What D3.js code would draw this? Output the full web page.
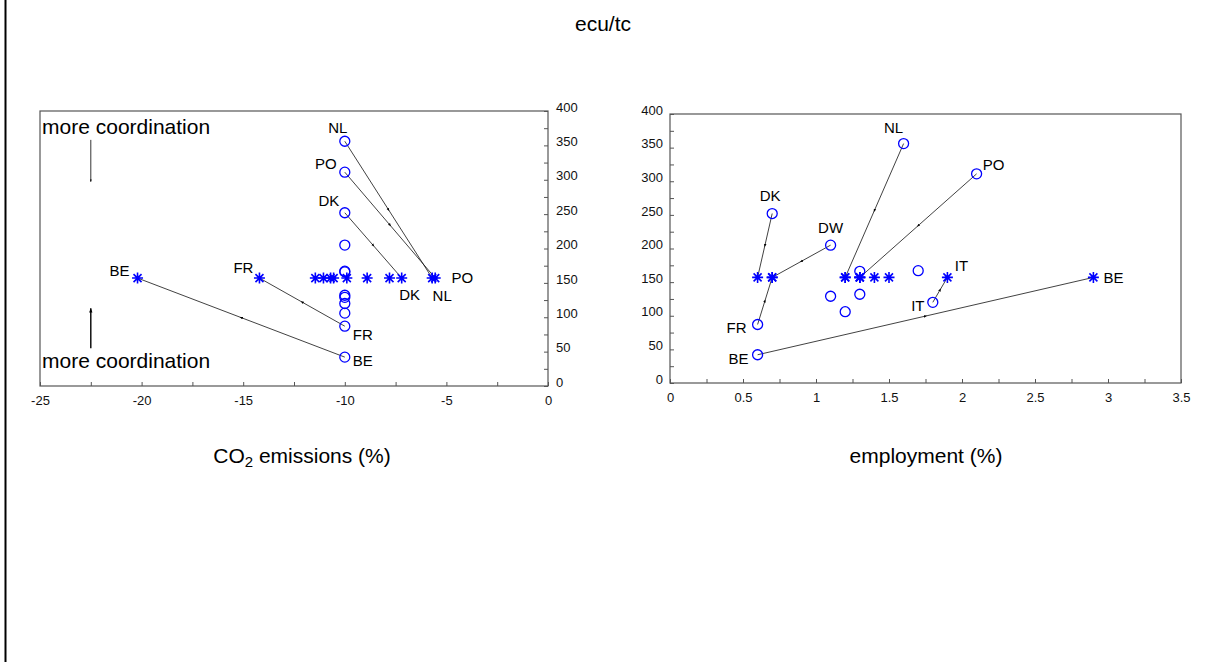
<!DOCTYPE html>
<meta charset="utf-8">
<style>
	body { margin: 0; background: #fff; }
	svg { font-family: Arial, "Liberation Sans", sans-serif; }
	.tick line { stroke: #555; }
	.tick text { font-size: 13px; fill: #111; }
	.domain { display: none; }
</style>

<div class="chart"></div>

<script src="https://cdn.jsdelivr.net/npm/d3@7"></script>

<script>
	// one entry per country, same order in every array ("" = unlabelled)
	var countries   = ["BE", "FR", "DK", "NL", "PO", "DW", "IT", "", "", "", "", ""];
	var taxCoord    = [42, 87, 252, 356, 311, 205, 120, 166, 167, 129, 132, 106];   // ecu/tc
	var taxUniform  = [157, 157, 157, 157, 157, 157, 157, 157, 157, 157, 157, 157];
	var co2Coord    = [-10, -10, -10, -10, -10, -10, -10, -10, -10, -10, -10, -10];
	var co2Uniform  = [-20.2, -14.2, -7.2, -5.7, -5.55, -9.9, -7.8, -11.45, -11.05, -10.7, -10.55, -8.9];
	var empCoord    = [0.6, 0.6, 0.7, 1.6, 2.1, 1.1, 1.8, 1.3, 1.7, 1.1, 1.3, 1.2];
	var empUniform  = [2.9, 0.7, 0.6, 1.2, 1.3, 0.7, 1.9, 1.4, 1.5, 1.2, 1.3, 1.3];

	var linkedLeft  = ["BE", "FR", "DK", "NL", "PO"];
	var linkedRight = ["BE", "FR", "DK", "NL", "PO", "DW", "IT"];

	var yTicks    = d3.range(0, 401, 25);
	var co2Ticks  = d3.range(-25, 0.01, 2.5);
	var empTicks  = d3.range(0, 3.51, 0.25);

	// "more coordination" notes, in data units of the left panel
	var noteText   = ["more coordination", "more coordination"];
	var noteY      = [366, 26];
	var noteArrows = [[358, 297], [55, 113]];

	var data = countries.map(function (c, i) {
		return {
			country: c,
			tax: taxCoord[i], taxU: taxUniform[i],
			co2: co2Coord[i], co2U: co2Uniform[i],
			emp: empCoord[i], empU: empUniform[i]
		};
	});

	var width = 1214, height = 662;

	var svg = d3.select('.chart').append('svg')
			.attr('width', width)
			.attr('height', height);

	var defs = svg.append('defs');
	defs.append('marker')
			.attr('id', 'mid')
			.attr('viewBox', '0 0 10 10')
			.attr('refX', 5).attr('refY', 5)
			.attr('markerWidth', 4).attr('markerHeight', 4)
			.attr('orient', 'auto')
			.append('path').attr('d', 'M0,1L10,5L0,9z').attr('fill', '#000');
	defs.append('marker')
			.attr('id', 'head')
			.attr('viewBox', '0 0 10 10')
			.attr('refX', 10).attr('refY', 5)
			.attr('markerWidth', 3).attr('markerHeight', 3)
			.attr('orient', 'auto')
			.append('path').attr('d', 'M0,1L10,5L0,9z').attr('fill', '#000');

	// page frame, left edge only
	svg.append('line')
			.attr('x1', 5.5).attr('x2', 5.5).attr('y1', 0).attr('y2', height)
			.attr('stroke', '#000').attr('stroke-width', 2);

	svg.append('text')
			.attr('x', 603).attr('y', 31)
			.attr('text-anchor', 'middle')
			.style('font-size', '21px')
			.text('ecu/tc');

	function star(g, x, y) {
		var r = 5.5, d = 4;
		g.append('path')
				.attr('d', 'M' + (x - r) + ',' + y + 'H' + (x + r) +
					'M' + x + ',' + (y - r) + 'V' + (y + r) +
					'M' + (x - d) + ',' + (y - d) + 'L' + (x + d) + ',' + (y + d) +
					'M' + (x - d) + ',' + (y + d) + 'L' + (x + d) + ',' + (y - d))
				.attr('stroke', '#0000ff').attr('stroke-width', 1.6).attr('fill', 'none');
	}

	function panel(opt) {
		var g = svg.append('g');
		var x = opt.x, y = opt.y;
		var r = x.range(), ry = y.range();

		g.append('rect')
				.attr('x', r[0]).attr('y', ry[1])
				.attr('width', r[1] - r[0]).attr('height', ry[0] - ry[1])
				.attr('fill', 'none').attr('stroke', '#555').attr('stroke-width', 1.2);

		var xa = g.append('g')
				.attr('transform', 'translate(0,' + ry[0] + ')')
				.call(d3.axisBottom(x).tickValues(opt.xTicks).tickSize(-4).tickPadding(10)
					.tickFormat(opt.xFormat));
		xa.selectAll('text').attr('dy', '0.71em');

		var ya;
		if (opt.yRight) {
			ya = g.append('g')
					.attr('transform', 'translate(' + r[1] + ',0)')
					.call(d3.axisRight(y).tickValues(yTicks).tickSize(-4).tickPadding(8)
						.tickFormat(function (d) { return d % 50 === 0 ? d : ''; }));
		} else {
			ya = g.append('g')
					.attr('transform', 'translate(' + r[0] + ',0)')
					.call(d3.axisLeft(y).tickValues(yTicks).tickSize(-4).tickPadding(7)
						.tickFormat(function (d) { return d % 50 === 0 ? d : ''; }));
		}
		ya.selectAll('text').attr('y', -4);

		g.append('text')
				.attr('x', opt.labelX).attr('y', 463)
				.attr('text-anchor', 'middle')
				.style('font-size', '21px')
				.html(opt.label);

		// connectors circle -> star, arrow in the middle
		g.selectAll('.link')
				.data(data.filter(function (d) { return opt.linked.indexOf(d.country) >= 0; }))
				.enter().append('path')
				.attr('class', 'link')
				.attr('d', function (d) {
					var x0 = x(opt.cx(d)), y0 = y(d.tax), x1 = x(opt.sx(d)), y1 = y(d.taxU);
					return 'M' + x0 + ',' + y0 + 'L' + (x0 + x1) / 2 + ',' + (y0 + y1) / 2 + 'L' + x1 + ',' + y1;
				})
				.attr('fill', 'none').attr('stroke', '#111').attr('stroke-width', 0.8)
				.attr('marker-mid', 'url(#mid)');

		g.selectAll('.coord')
				.data(data)
				.enter().append('circle')
				.attr('class', 'coord')
				.attr('cx', function (d) { return x(opt.cx(d)); })
				.attr('cy', function (d) { return y(d.tax); })
				.attr('r', 5)
				.attr('fill', 'none').attr('stroke', '#0000ff').attr('stroke-width', 1.3);

		data.forEach(function (d) { star(g, x(opt.sx(d)), y(d.taxU)); });

		opt.names.forEach(function (n) {
			var d = data.filter(function (e) { return e.country === n[0]; })[0];
			var px = n[1] === 'c' ? x(opt.cx(d)) : x(opt.sx(d));
			var py = n[1] === 'c' ? y(d.tax) : y(d.taxU);
			g.append('text')
					.attr('x', px + n[2]).attr('y', py + n[3])
					.attr('dy', '0.35em')
					.attr('text-anchor', 'middle')
					.style('font-size', '15px')
					.text(n[0]);
		});
		return g;
	}

	var xCo2 = d3.scaleLinear().domain([-25, 0]).range([40, 548]);
	var yLeft = d3.scaleLinear().domain([0, 400]).range([386, 111]);
	var xEmp = d3.scaleLinear().domain([0, 3.5]).range([670, 1181]);
	var yRight = d3.scaleLinear().domain([0, 400]).range([383, 114]);

	var left = panel({
		x: xCo2, y: yLeft, yRight: true,
		xTicks: co2Ticks,
		xFormat: function (d) { return d % 5 === 0 ? String(d) : ''; },
		label: 'CO<tspan dy="4" font-size="15px">2</tspan><tspan dy="-4"> emissions (%)</tspan>',
		labelX: 302,
		linked: linkedLeft,
		cx: function (d) { return d.co2; }, sx: function (d) { return d.co2U; },
		names: [["BE", "s", -18, -7], ["FR", "s", -16, -10], ["NL", "c", -7, -14],
			["PO", "c", -19, -8], ["DK", "c", -16, -12], ["FR", "c", 18, 9],
			["BE", "c", 18, 4], ["DK", "s", 8, 17], ["NL", "s", 10, 18], ["PO", "s", 27, 0]]
	});

	panel({
		x: xEmp, y: yRight, yRight: false,
		xTicks: empTicks,
		xFormat: function (d) { return Math.abs(d * 2 - Math.round(d * 2)) < 1e-9 ? String(d) : ''; },
		label: 'employment (%)',
		labelX: 926,
		linked: linkedRight,
		cx: function (d) { return d.emp; }, sx: function (d) { return d.empU; },
		names: [["DK", "c", -2, -18], ["DW", "c", 0, -17], ["NL", "c", -10, -16],
			["PO", "c", 17, -9], ["IT", "s", 14, -12], ["IT", "c", -15, 3],
			["BE", "s", 20, 0], ["FR", "c", -21, 3], ["BE", "c", -19, 4]]
	});

	// notes on the left panel
	noteText.forEach(function (t, i) {
		left.append('text')
				.attr('x', xCo2(-24.9)).attr('y', yLeft(noteY[i]))
				.style('font-size', '21px')
				.text(t);
		left.append('line')
				.attr('x1', xCo2(-22.5)).attr('x2', xCo2(-22.5))
				.attr('y1', yLeft(noteArrows[i][0])).attr('y2', yLeft(noteArrows[i][1]))
				.attr('stroke', '#000').attr('stroke-width', i === 0 ? 0.8 : 1.4)
				.attr('marker-end', 'url(#head)');
	});
</script>
